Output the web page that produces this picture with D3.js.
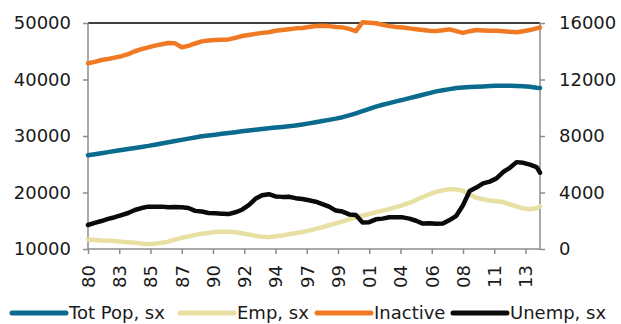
<!DOCTYPE html>
<html>
<head>
<meta charset="utf-8">
<script src="https://cdn.jsdelivr.net/npm/d3@7"></script>
<style>
  html, body { margin: 0; padding: 0; background: #fff; }
  svg text { font-family: "DejaVu Sans", sans-serif; fill: #1a1a1a; }
</style>
</head>
<body>
<svg id="chart" width="621" height="324"></svg>
<script>
// Half-year sample points (decimal years)
const years = [
  1980.75,1981.25,1981.75,1982.25,1982.75,1983.25,1983.75,1984.25,1984.75,1985.25,
  1985.75,1986.25,1986.75,1987.25,1987.75,1988.25,1988.75,1989.25,1989.75,1990.25,
  1990.75,1991.25,1991.75,1992.25,1992.75,1993.25,1993.75,1994.25,1994.75,1995.25,
  1995.75,1996.25,1996.75,1997.25,1997.75,1998.25,1998.75,1999.25,1999.75,2000.25,
  2000.75,2001.25,2001.75,2002.25,2002.75,2003.25,2003.75,2004.25,2004.75,2005.25,
  2005.75,2006.25,2006.75,2007.25,2007.75,2008.25,2008.75,2009.25,2009.75,2010.25,
  2010.75,2011.25,2011.75,2012.25,2012.75,2013.25,2013.75,2014.25,2014.5
];

// Left axis series
const totPop = [
  26600,26780,26960,27150,27340,27520,27700,27890,28070,28250,
  28460,28670,28890,29100,29320,29530,29750,29940,30090,30230,
  30380,30530,30680,30830,30970,31100,31230,31360,31490,31610,
  31740,31870,32020,32230,32440,32650,32860,33070,33330,33660,
  34000,34400,34800,35200,35530,35820,36120,36400,36700,37000,
  37300,37600,37900,38100,38300,38500,38580,38660,38720,38780,
  38830,38880,38900,38880,38860,38800,38700,38550,38500
];
const emp = [
  11700,11600,11500,11450,11400,11300,11200,11100,10950,10900,
  10950,11100,11300,11650,12000,12200,12500,12700,12850,13000,
  13050,13050,12950,12800,12550,12350,12150,12100,12250,12400,
  12600,12800,13000,13250,13550,13850,14200,14550,14900,15250,
  15600,15900,16200,16500,16800,17100,17400,17750,18150,18700,
  19200,19700,20100,20400,20600,20550,20300,19600,19100,18800,
  18600,18450,18300,17900,17550,17150,17050,17200,17550
];

// Right axis series
const inactive = [
  13150,13250,13380,13450,13550,13650,13800,14000,14150,14280,
  14400,14500,14580,14560,14280,14380,14550,14700,14760,14790,
  14820,14840,14950,15080,15150,15230,15300,15350,15450,15500,
  15560,15620,15650,15720,15790,15800,15780,15720,15690,15580,
  15420,16050,16020,15980,15880,15780,15720,15680,15620,15560,
  15500,15450,15430,15480,15550,15420,15300,15420,15500,15470,
  15450,15460,15420,15380,15340,15420,15500,15620,15680
];
const unemp = [
  1700,1850,1980,2130,2250,2400,2550,2760,2900,3000,
  3000,3000,2950,2980,2960,2900,2700,2650,2550,2530,
  2500,2470,2600,2780,3100,3550,3800,3880,3720,3690,
  3700,3600,3540,3450,3350,3180,3000,2720,2650,2450,
  2400,1880,1900,2100,2150,2250,2240,2240,2150,2000,
  1800,1830,1780,1800,2050,2350,3100,4100,4350,4650,
  4770,5000,5450,5750,6150,6100,5970,5800,5400
];

const xTickLabels = ["80","83","85","87","90","92","94","97","99","01","04","06","08","11","13"];
const leftTicks = [10000, 20000, 30000, 40000, 50000];
const rightTicks = [0, 4000, 8000, 12000, 16000];

const seriesNames = ["Tot Pop, sx", "Emp, sx", "Inactive", "Unemp, sx"];
const seriesColors = ["#0a6b8f", "#e8dfa2", "#f07a24", "#0a0a0a"];

// ---- drawing ----
const svg = d3.select("#chart");
const L = 88, R = 540, T = 23, B = 249;

const x = d3.scaleLinear().domain([1980.75, 2014.5]).range([L, R]);
const yL = d3.scaleLinear().domain([10000, 50000]).range([B, T]);
const yR = d3.scaleLinear().domain([0, 16000]).range([B, T]);

const axisColor = "#8c8c8c";

// top border line (black)
svg.append("line").attr("x1", L).attr("x2", R).attr("y1", T).attr("y2", T)
  .attr("stroke", "#000").attr("stroke-width", 1.5);

// left axis
const gL = svg.append("g").attr("transform", `translate(${L},0)`)
  .call(d3.axisLeft(yL).tickValues(leftTicks).tickSize(5).tickPadding(12).tickFormat(d3.format("d")));
// right axis
const gR = svg.append("g").attr("transform", `translate(${R},0)`)
  .call(d3.axisRight(yR).tickValues(rightTicks).tickSize(5).tickPadding(14).tickFormat(d3.format("d")));
// bottom axis
const tickYears = xTickLabels.map((_, k) => 1980.75 + k * 28 / 12);
const gB = svg.append("g").attr("transform", `translate(0,${B})`)
  .call(d3.axisBottom(x).tickValues(tickYears).tickSize(5)
    .tickFormat((d, i) => xTickLabels[i]));

[gL, gR, gB].forEach(g => {
  g.select(".domain").attr("stroke", axisColor).attr("stroke-width", 1.5);
  g.selectAll(".tick line").attr("stroke", axisColor).attr("stroke-width", 1.5);
  g.selectAll("text").attr("font-size", 18).attr("font-family", "DejaVu Sans, sans-serif").attr("fill", "#1a1a1a");
});
gB.select(".domain").attr("d", `M${L},0H${R}`);
gL.select(".domain").attr("d", `M0,${B}V${T}`);
gR.select(".domain").attr("d", `M0,${B}V${T}`);

gB.selectAll(".tick text")
  .attr("transform", "rotate(-90)")
  .attr("text-anchor", "end")
  .attr("x", -16)
  .attr("y", 0)
  .attr("dy", "0.35em");

// lines
const mk = (arr, ys) => d3.line()
  .x((d, i) => x(years[i]))
  .y(d => ys(d))
  .curve(d3.curveLinear)(arr);

const seriesData = [
  { vals: totPop, scale: yL },
  { vals: emp, scale: yL },
  { vals: inactive, scale: yR },
  { vals: unemp, scale: yR }
];
seriesData.forEach((s, k) => {
  svg.append("path")
    .attr("d", mk(s.vals, s.scale))
    .attr("fill", "none")
    .attr("stroke", seriesColors[k])
    .attr("stroke-width", 4.5)
    .attr("stroke-linejoin", "round")
    .attr("stroke-linecap", "round");
});

// legend
const legendX = [12, 180, 317, 453];
const ly = 313;
const lg = svg.append("g");
seriesNames.forEach((name, k) => {
  lg.append("line")
    .attr("x1", legendX[k]).attr("x2", legendX[k] + 54)
    .attr("y1", ly).attr("y2", ly)
    .attr("stroke", seriesColors[k]).attr("stroke-width", 5)
    .attr("stroke-linecap", "round");
  lg.append("text")
    .attr("x", legendX[k] + 57).attr("y", ly)
    .attr("dy", "0.35em")
    .attr("font-size", 18)
    .text(name);
});
</script>
</body>
</html>
